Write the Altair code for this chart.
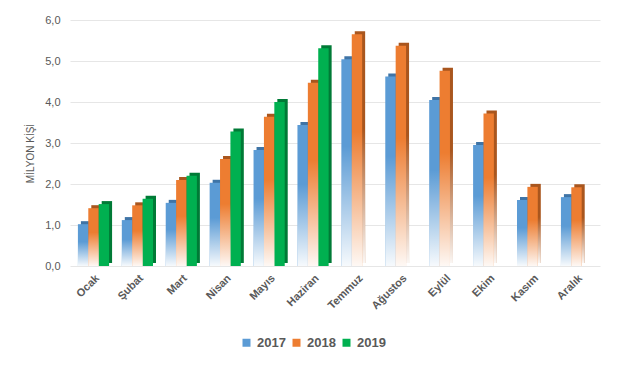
import altair as alt
import pandas as pd

months = ["Ocak", "Şubat", "Mart", "Nisan", "Mayıs", "Haziran",
          "Temmuz", "Ağustos", "Eylül", "Ekim", "Kasım", "Aralık"]
years = ["2017", "2018", "2019"]
v2017 = [1.02, 1.12, 1.54, 2.03, 2.83, 3.44, 5.04, 4.62, 4.05, 2.95, 1.61, 1.68]
v2018 = [1.41, 1.48, 2.10, 2.61, 3.64, 4.47, 5.65, 5.37, 4.76, 3.72, 1.93, 1.92]
v2019 = [1.51, 1.64, 2.20, 3.28, 4.00, 5.31]
colors = ["#5B9BD5", "#ED7D31", "#00B050"]
side_colors = ["#3F74A6", "#A9561E", "#007A36"]
tick_vals = [0, 1, 2, 3, 4, 5, 6]

rows = []
for m, a in zip(months, v2017):
    rows.append({"ay": m, "yil": "2017", "v": a})
for m, a in zip(months, v2018):
    rows.append({"ay": m, "yil": "2018", "v": a})
for m, a in zip(months, v2019):
    rows.append({"ay": m, "yil": "2019", "v": a})
df = pd.DataFrame(rows)

FONT = "Liberation Sans"
GRAY = "#595959"

PAD_IN, PAD_OUT, W = 0.29, 0.18, 530
STEP = W / (len(months) - PAD_IN + 2 * PAD_OUT)
BAND = STEP * (1 - PAD_IN)
SHIFT = 3

x_enc = alt.X("ay:N", sort=months, title=None,
              scale=alt.Scale(paddingInner=PAD_IN, paddingOuter=PAD_OUT),
              axis=alt.Axis(labelAngle=-45, labelFontWeight="bold", labelFontSize=11,
                            labelColor=GRAY, labelFont=FONT, ticks=False, domain=False,
                            labelPadding=6))
xo_front = alt.XOffset("yil:N", sort=years, scale=alt.Scale(paddingInner=0.0))
xo_back = alt.XOffset("yil:N", sort=years,
                      scale=alt.Scale(paddingInner=0.0, range=[SHIFT, BAND + SHIFT]))
y_enc = alt.Y("v:Q", title="MİLYON KİŞİ",
              scale=alt.Scale(domain=[0, 6], nice=False),
              axis=alt.Axis(values=tick_vals, grid=True, gridColor="#E6E6E6",
                            ticks=False, domain=False, labelFontSize=11,
                            labelColor=GRAY, labelFont=FONT, labelPadding=10,
                            labelExpr="replace(format(datum.value, '.1f'), '.', ',')",
                            titleFontSize=10, titleFontWeight="normal", titleColor=GRAY,
                            titleFont=FONT, titleX=-40, titleY=133, titleAngle=270,
                            titleAlign="center", titleBaseline="middle"))

fade = alt.Gradient(
    gradient="linear", x1=0, x2=0, y1=0, y2=1,
    stops=[alt.GradientStop(offset=0, color="rgba(255,255,255,0)"),
           alt.GradientStop(offset=0.42, color="rgba(255,255,255,0)"),
           alt.GradientStop(offset=1, color="rgba(255,255,255,0.95)")])

base = alt.Chart(df)

back = base.mark_bar(yOffset=-SHIFT).encode(
    x=x_enc, xOffset=xo_back, y=y_enc,
    fill=alt.Fill("yil:N", scale=alt.Scale(domain=years, range=side_colors), legend=None))

back_fade = base.transform_filter("datum.yil != '2019'").mark_bar(
    yOffset=-SHIFT, color=fade).encode(x=x_enc, xOffset=xo_back, y=y_enc)

front = base.mark_bar().encode(
    x=x_enc, xOffset=xo_front, y=y_enc,
    color=alt.Color("yil:N", scale=alt.Scale(domain=years, range=colors), title=None,
                    legend=alt.Legend(orient="none", legendX=170, legendY=316,
                                      direction="horizontal", symbolType="square",
                                      symbolSize=64, labelFontSize=13,
                                      labelFontWeight="bold", labelColor=GRAY,
                                      labelFont=FONT, columnPadding=4, labelOffset=4,
                                      padding=0)))

front_fade = base.transform_filter("datum.yil != '2019'").mark_bar(color=fade).encode(
    x=x_enc, xOffset=xo_front, y=y_enc)

chart = alt.layer(
    alt.layer(back, back_fade).resolve_scale(xOffset="shared"),
    alt.layer(front, front_fade).resolve_scale(xOffset="shared"),
).resolve_scale(
    fill="independent", color="independent", xOffset="independent"
).properties(
    width=W, height=246, autosize="none",
    padding={"left": 62, "top": 12, "right": 16, "bottom": 92},
    background="white"
).configure_view(stroke=None)

chart.save("out.html", embed_options={"renderer": "svg", "actions": False})
